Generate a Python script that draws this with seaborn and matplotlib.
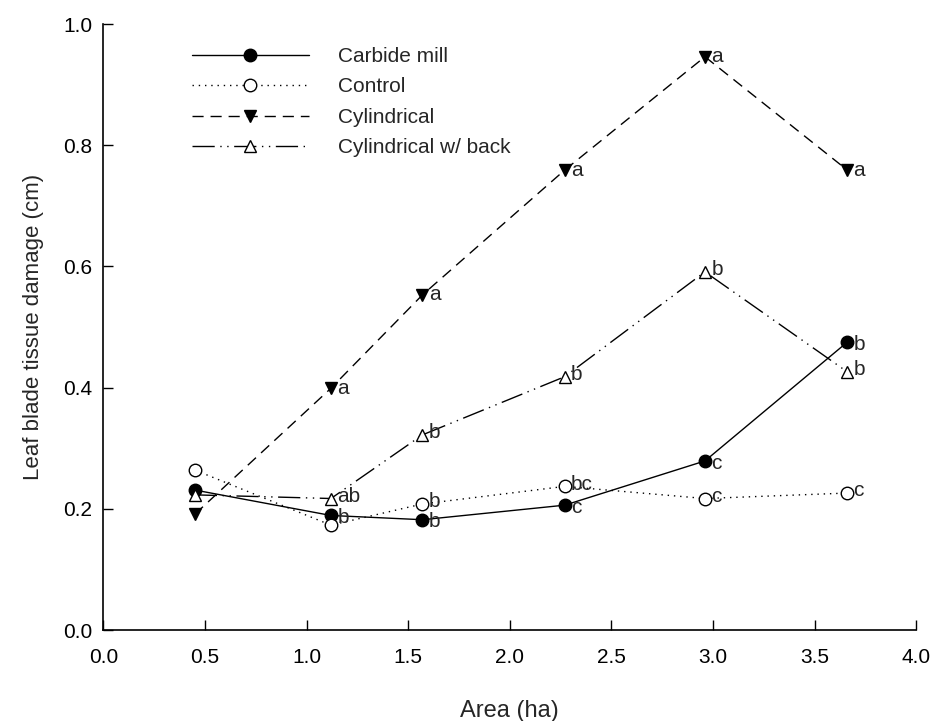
import matplotlib
matplotlib.use("Agg")
import pandas as pd
import matplotlib.pyplot as plt
import seaborn as sns

# values
area = [0.45, 1.12, 1.57, 2.27, 2.96, 3.66]
carbide = [0.231, 0.189, 0.182, 0.206, 0.279, 0.475]
control = [0.264, 0.173, 0.208, 0.237, 0.217, 0.226]
cylindrical = [0.191, 0.399, 0.553, 0.759, 0.946, 0.759]
cyl_back = [0.223, 0.217, 0.322, 0.418, 0.591, 0.426]

carbide_letters = ["", "b", "b", "c", "c", "b"]
control_letters = ["", "", "b", "bc", "c", "c"]
cyl_letters = ["", "a", "a", "a", "a", "a"]
back_letters = ["", "ab", "b", "b", "b", "b"]

series_names = ["Carbide mill", "Control", "Cylindrical", "Cylindrical w/ back"]
series_values = [carbide, control, cylindrical, cyl_back]
series_letters = [carbide_letters, control_letters, cyl_letters, back_letters]

sns.set_style("ticks")
plt.rcParams["font.family"] = ["Liberation Sans", "DejaVu Sans"]

# marker, face colour, line style, letter nudge (points) per series
styles = {
    "Carbide mill": ("o", "black", "-", -1.5),
    "Control": ("o", "white", (0, (1, 3.5)), 1.5),
    "Cylindrical": ("v", "black", (0, (8, 5)), 0),
    "Cylindrical w/ back": ("^", "white", (0, (16, 4, 1, 4, 1, 4)), 1.5),
}

fig = plt.figure(figsize=(9.36, 7.21), dpi=100)
ax = fig.add_axes([0.1104, 0.1262, 0.8686, 0.8405])

for name, vals, letters in zip(series_names, series_values, series_letters):
    df = pd.DataFrame({"area": area, "damage": vals})
    marker, face, ls, nudge = styles[name]
    sns.lineplot(
        data=df, x="area", y="damage", ax=ax, color="black",
        marker=marker, markersize=9, markerfacecolor=face,
        markeredgecolor="black", markeredgewidth=1.0,
        linestyle=ls, linewidth=1.0, label=name,
    )
    for x, y, t in zip(area, vals, letters):
        if t:
            ax.annotate(t, (x, y), xytext=(4.5, nudge), textcoords="offset points",
                        ha="left", va="center", fontsize=15)

ax.set_xlim(0, 4)
ax.set_ylim(0, 1)
ax.set_xticks([0, 0.5, 1, 1.5, 2, 2.5, 3, 3.5, 4])
ax.set_yticks([0, 0.2, 0.4, 0.6, 0.8, 1.0])
ax.xaxis.set_major_formatter(matplotlib.ticker.FormatStrFormatter("%.1f"))
ax.yaxis.set_major_formatter(matplotlib.ticker.FormatStrFormatter("%.1f"))
ax.tick_params(direction="in", length=7, width=1, labelsize=15, colors="black")
ax.tick_params(axis="x", pad=13)
ax.tick_params(axis="y", pad=8)
for s in ["left", "bottom"]:
    ax.spines[s].set_linewidth(1.2)
    ax.spines[s].set_color("black")
sns.despine(ax=ax)

ax.set_xlabel("Area (ha)", fontsize=17, labelpad=24)
ax.set_ylabel("Leaf blade tissue damage (cm)", fontsize=16, labelpad=14)

ax.legend(loc="upper left", bbox_to_anchor=(192 / 936, 1 - 47 / 721),
          bbox_transform=fig.transFigure, frameon=False, fontsize=15,
          handlelength=5.6, handletextpad=1.4, labelspacing=0.55,
          borderaxespad=0, borderpad=0)

fig.savefig("out.png", dpi=100)
